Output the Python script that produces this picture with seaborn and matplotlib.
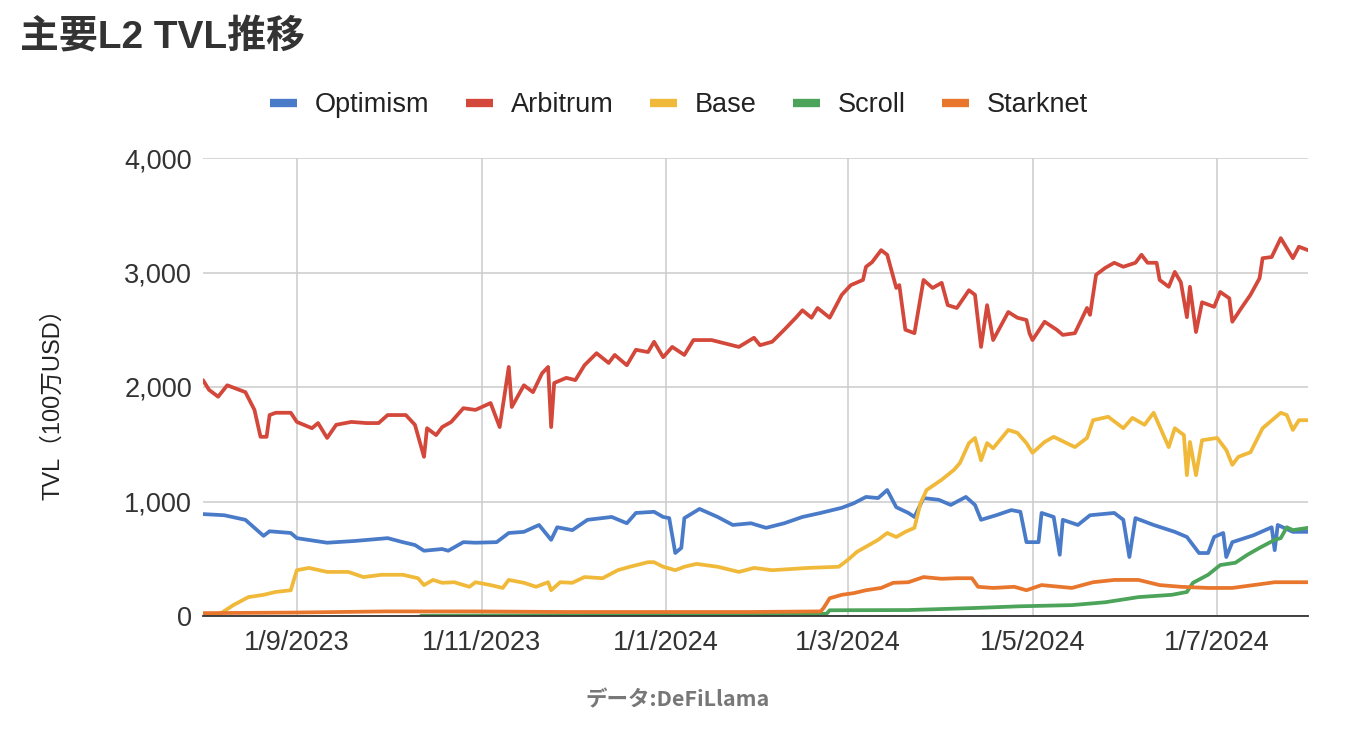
import matplotlib

matplotlib.use("Agg")
import matplotlib.dates as mdates
import matplotlib.pyplot as plt
import pandas as pd
import seaborn as sns
from matplotlib.lines import Line2D
from matplotlib.ticker import FuncFormatter, StrMethodFormatter

START = pd.Timestamp("2023-08-01")

# (days since 2023-08-01, TVL in 100万USD)
optimism = [
    (0, 890), (7, 880), (14, 840), (17, 770), (20, 700), (22, 740), (29, 725),
    (31, 680), (41, 640), (50, 655), (61, 680), (66, 645), (70, 620), (73, 570),
    (79, 585), (81, 570), (86, 645), (90, 640), (97, 645), (101, 725), (106, 735),
    (111, 795), (115, 665), (117, 775), (122, 750), (127, 840), (135, 865),
    (140, 810), (143, 900), (149, 910), (152, 865), (154, 855), (156, 550),
    (158, 595), (159, 855), (164, 935), (170, 865), (175, 795), (181, 810),
    (186, 770), (192, 810), (198, 865), (204, 900), (211, 945), (215, 985),
    (219, 1040), (223, 1030), (226, 1100), (229, 950), (233, 900), (235, 865),
    (238, 1030), (243, 1015), (247, 970), (252, 1040), (255, 970), (257, 840),
    (262, 880), (267, 925), (270, 910), (272, 645), (276, 645), (277, 900),
    (281, 865), (283, 535), (284, 840), (289, 795), (293, 880), (301, 900),
    (304, 840), (306, 515), (308, 855), (314, 795), (321, 735), (325, 690),
    (327, 620), (329, 550), (332, 550), (334, 690), (337, 725), (338, 515),
    (340, 645), (347, 705), (353, 775), (354, 575), (355, 795), (360, 735),
    (365, 735),
]

arbitrum = [
    (0, 2060), (2, 1975), (5, 1915), (8, 2015), (14, 1955), (17, 1800),
    (19, 1565), (21, 1565), (22, 1755), (24, 1775), (29, 1775), (31, 1695),
    (36, 1640), (38, 1685), (41, 1555), (44, 1670), (49, 1695), (54, 1685),
    (58, 1685), (61, 1755), (67, 1755), (70, 1670), (73, 1390), (74, 1640),
    (77, 1580), (79, 1650), (82, 1695), (86, 1815), (90, 1800), (95, 1860),
    (98, 1650), (101, 2175), (102, 1825), (106, 2015), (109, 1955), (112, 2120),
    (114, 2175), (115, 1650), (116, 2035), (120, 2080), (123, 2060), (126, 2190),
    (130, 2295), (134, 2210), (136, 2280), (140, 2190), (143, 2325), (147, 2305),
    (149, 2395), (152, 2260), (155, 2350), (159, 2280), (162, 2410), (168, 2410),
    (177, 2350), (182, 2430), (184, 2365), (188, 2395), (192, 2500), (196, 2610),
    (198, 2670), (201, 2605), (203, 2690), (207, 2605), (211, 2805), (214, 2890),
    (218, 2935), (219, 3050), (221, 3090), (224, 3195), (226, 3155), (229, 2865),
    (230, 2890), (232, 2500), (235, 2470), (238, 2935), (241, 2865), (244, 2910),
    (246, 2715), (249, 2690), (253, 2845), (255, 2805), (257, 2350), (259, 2715),
    (261, 2410), (266, 2655), (269, 2605), (272, 2585), (273, 2470), (274, 2410),
    (278, 2570), (282, 2500), (284, 2455), (288, 2470), (292, 2690), (293, 2630),
    (295, 2980), (298, 3040), (301, 3085), (304, 3050), (308, 3085), (310, 3155),
    (312, 3085), (315, 3085), (316, 2935), (319, 2875), (321, 3005), (323, 2915),
    (325, 2610), (326, 2875), (328, 2480), (330, 2740), (334, 2700), (336, 2830),
    (339, 2775), (340, 2570), (343, 2690), (346, 2805), (349, 2950), (350, 3125),
    (353, 3135), (356, 3300), (360, 3125), (362, 3225), (365, 3195),
]

base = [
    (0, 5), (3, 10), (6, 25), (10, 95), (15, 165), (20, 185), (24, 210),
    (29, 225), (30, 315), (31, 400), (35, 420), (41, 385), (48, 385), (53, 340),
    (59, 360), (66, 360), (71, 330), (73, 270), (76, 315), (79, 290), (83, 295),
    (88, 255), (90, 295), (95, 270), (99, 245), (101, 315), (106, 290),
    (110, 255), (114, 295), (115, 225), (118, 295), (122, 290), (126, 340),
    (132, 330), (137, 400), (141, 430), (147, 470), (149, 470), (152, 430),
    (156, 400), (159, 430), (163, 455), (170, 430), (177, 385), (182, 420),
    (188, 400), (200, 420), (210, 430), (213, 490), (216, 560), (219, 605),
    (223, 665), (226, 725), (229, 690), (232, 735), (235, 770), (237, 985),
    (239, 1100), (244, 1190), (248, 1275), (250, 1335), (253, 1510), (255, 1555),
    (257, 1360), (259, 1510), (261, 1465), (266, 1625), (269, 1600), (272, 1510),
    (274, 1425), (278, 1520), (281, 1565), (288, 1475), (292, 1555), (294, 1710),
    (299, 1740), (304, 1640), (307, 1730), (311, 1670), (314, 1775), (319, 1475),
    (321, 1640), (324, 1580), (325, 1230), (326, 1520), (328, 1230), (330, 1535),
    (335, 1555), (338, 1450), (340, 1320), (342, 1390), (346, 1430), (350, 1640),
    (356, 1775), (358, 1755), (360, 1625), (362, 1710), (365, 1710),
]

scroll = [
    (72, 2), (100, 5), (150, 10), (200, 15), (206, 20), (207, 50), (233, 52),
    (255, 70), (270, 85), (287, 95), (298, 120), (309, 165), (320, 185),
    (325, 210), (327, 290), (332, 360), (336, 445), (341, 465), (345, 535),
    (349, 595), (354, 665), (356, 680), (358, 775), (360, 750), (365, 770),
]

starknet = [
    (0, 25), (30, 30), (60, 40), (90, 40), (120, 35), (150, 35), (180, 35),
    (204, 40), (205, 70), (207, 155), (211, 185), (215, 200), (219, 225),
    (224, 245), (228, 290), (233, 295), (238, 340), (244, 325), (249, 330),
    (254, 330), (256, 255), (261, 245), (268, 255), (272, 225), (277, 270),
    (287, 245), (294, 295), (301, 315), (309, 315), (316, 270), (323, 255),
    (332, 245), (340, 245), (347, 270), (354, 295), (365, 295),
]

chains = ["Optimism", "Arbitrum", "Base", "Scroll", "Starknet"]
colors = ["#4a7bc8", "#d3483b", "#f0b93a", "#4ca35a", "#e8762c"]

rows = []
for name, pts in zip(chains, [optimism, arbitrum, base, scroll, starknet]):
    for day, value in pts:
        rows.append({"date": START + pd.Timedelta(days=day), "tvl": value, "chain": name})
df = pd.DataFrame(rows)

sns.set_theme(style="white")
plt.rcParams["font.family"] = ["Liberation Sans", "Noto Sans CJK JP", "DejaVu Sans"]

fig = plt.figure(figsize=(13.58, 7.32), dpi=100)
ax = fig.add_axes([203 / 1358, 1 - 616 / 732, 1105 / 1358, 458 / 732])

sns.lineplot(
    data=df, x="date", y="tvl", hue="chain", hue_order=chains,
    palette=colors, estimator=None, linewidth=2.7, ax=ax, legend=False,
)

ax.set_xlim(START, START + pd.Timedelta(days=365))
ax.set_ylim(0, 4000)
ax.set_yticks([0, 1000, 2000, 3000, 4000])
ax.yaxis.set_major_formatter(StrMethodFormatter("{x:,.0f}"))
ax.xaxis.set_major_locator(mdates.MonthLocator(bymonth=[1, 3, 5, 7, 9, 11]))
ax.xaxis.set_major_formatter(
    FuncFormatter(lambda x, pos: (lambda d: f"{d.day}/{d.month}/{d.year}")(mdates.num2date(x)))
)

ax.grid(True, color="#cccccc", linewidth=1.1)
ax.set_axisbelow(True)
for side in ["top", "right", "left"]:
    ax.spines[side].set_visible(False)
ax.spines["bottom"].set_color("#333333")
ax.spines["bottom"].set_linewidth(1.3)
ax.tick_params(axis="both", length=0, labelsize=19.5, labelcolor="#333333")
ax.tick_params(axis="x", pad=10)
ax.tick_params(axis="y", pad=8)

ax.set_xlabel("")
ax.set_ylabel("TVL（100万USD）", fontsize=17, color="#222222")
ax.yaxis.set_label_coords(-0.126, 0.476)

fig.text(20 / 1358, 1 - 38 / 732, "主要L2 TVL推移", fontsize=28, fontweight="bold",
         ha="left", va="center", color="#333333")

handles = [Line2D([], [], color=c, linewidth=6, solid_capstyle="butt") for c in colors]
fig.legend(
    handles, chains, loc="center", bbox_to_anchor=(679 / 1358, 1 - 105 / 732),
    ncol=5, frameon=False, fontsize=19.5, handlelength=1.0, handletextpad=0.65,
    columnspacing=1.35, labelcolor="#222222",
)

fig.text(678 / 1358, 1 - 700 / 732, "データ:DeFiLlama", ha="center", va="center",
         fontsize=15.5, fontweight="bold", color="#777777",
         family=["Noto Sans CJK JP", "DejaVu Sans"])

fig.savefig("out.png", dpi=100)
plt.close(fig)
